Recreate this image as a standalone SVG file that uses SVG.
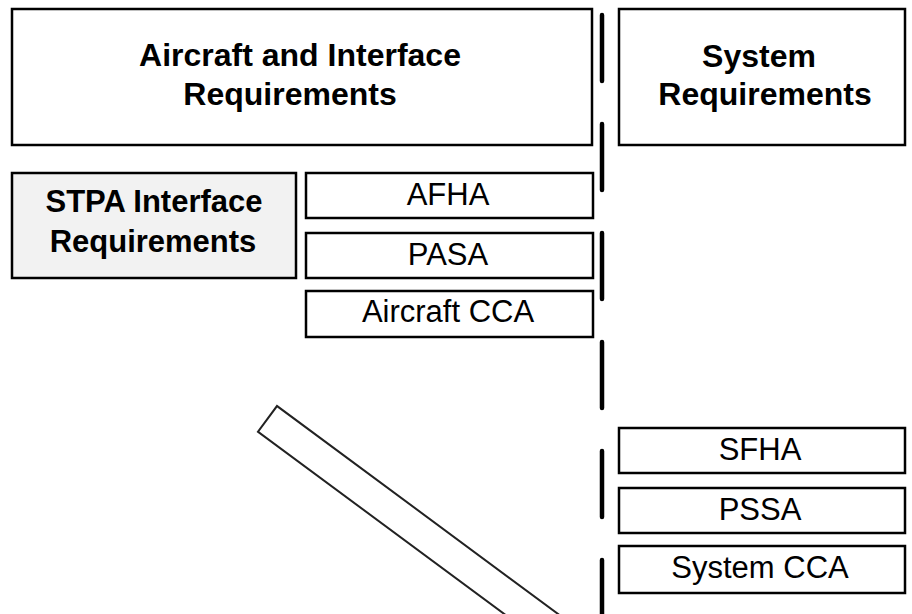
<svg xmlns="http://www.w3.org/2000/svg" width="912" height="614" viewBox="0 0 912 614">
<style>
.box{fill:#ffffff;stroke:#000000;stroke-width:2.5}
.grey{fill:#f2f2f2;stroke:#000000;stroke-width:2.5}
.b{font-family:"Liberation Sans",Arial,sans-serif;font-weight:bold;font-size:32px;fill:#000;text-anchor:middle}
.r{font-family:"Liberation Sans",Arial,sans-serif;font-size:31px;fill:#000;text-anchor:middle}
</style>
<rect width="912" height="614" fill="#ffffff"/>
<g id="connectors">
<line x1="602" y1="15" x2="602" y2="630" stroke="#000" stroke-width="4.5" stroke-linecap="round" stroke-dasharray="66 43"/>
</g>
<g id="n-aircraft-req">
<rect class="box" x="12" y="9" width="580" height="136"/>
<text class="b" x="300" y="66">Aircraft and Interface</text>
<text class="b" x="290" y="105">Requirements</text>
</g>
<g id="n-system-req">
<rect class="box" x="619" y="9" width="286" height="136"/>
<text class="b" x="759" y="67">System</text>
<text class="b" x="765" y="105">Requirements</text>
</g>
<g id="n-stpa">
<rect class="grey" x="12" y="173" width="284" height="105"/>
<text class="b" x="154" y="212" style="font-size:31px">STPA Interface</text>
<text class="b" x="153" y="252" style="font-size:31px">Requirements</text>
</g>
<g id="n-afha">
<rect class="box" x="306" y="173" width="287" height="45"/>
<text class="r" x="448" y="205">AFHA</text>
</g>
<g id="n-pasa">
<rect class="box" x="306" y="233" width="287" height="45"/>
<text class="r" x="448" y="265">PASA</text>
</g>
<g id="n-aircraft-cca">
<rect class="box" x="306" y="291" width="287" height="46"/>
<text class="r" x="448" y="322">Aircraft CCA</text>
</g>
<g id="n-sfha">
<rect class="box" x="619" y="428" width="286" height="45"/>
<text class="r" x="760" y="460">SFHA</text>
</g>
<g id="n-pssa">
<rect class="box" x="619" y="488" width="286" height="45"/>
<text class="r" x="760" y="520">PSSA</text>
</g>
<g id="n-system-cca">
<rect class="box" x="619" y="546" width="286" height="47"/>
<text class="r" x="760" y="578">System CCA</text>
</g>
<g id="n-diagonal">
<rect x="277" y="406" width="420" height="32" fill="none" stroke="#222" stroke-width="2" transform="rotate(36.5 277 406)"/>
</g>
</svg>
